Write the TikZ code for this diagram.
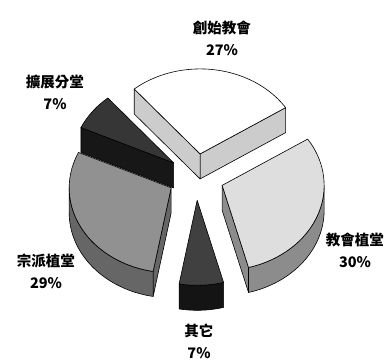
\documentclass[tikz,border=0pt]{standalone}
\usepackage{fontspec}
\newfontfamily\cjk{Noto Sans CJK TC}
\usepackage{tikz}
\definecolor{topA}{gray}{1.00}
\definecolor{sideA}{gray}{0.80}
\definecolor{topB}{gray}{0.21}
\definecolor{sideB}{gray}{0.09}
\definecolor{topC}{gray}{0.57}
\definecolor{sideC}{gray}{0.40}
\definecolor{topD}{gray}{0.25}
\definecolor{sideD}{gray}{0.08}
\definecolor{topE}{gray}{0.87}
\definecolor{sideE}{gray}{0.55}
\def\pieRx{102pt}
\def\pieRy{85pt}
\tikzset{
  face/.style={draw=black, line width=0.6pt, line join=round},
  lab/.style={font=\cjk\bfseries\fontsize{14.5}{22}\selectfont, align=center, inner sep=0pt},
}

\begin{document}
\begin{tikzpicture}[x=1pt,y=1pt]
    \useasboundingbox (-196,-187) rectangle (196,177);

    % centres of the pushed-out slices
    \coordinate (O1) at (81.6:28pt and 23.33pt);
    \coordinate (O2) at (142.8:28pt and 23.33pt);
    \coordinate (O3) at (207.6:28pt and 23.33pt);
    \coordinate (O4) at (272.4:28pt and 23.33pt);
    \coordinate (O5) at (339:28pt and 23.33pt);
    \coordinate (B1) at ([yshift=-25pt]O1);
    \coordinate (B2) at ([yshift=-25pt]O2);
    \coordinate (B3) at ([yshift=-25pt]O3);
    \coordinate (B4) at ([yshift=-25pt]O4);
    \coordinate (B5) at ([yshift=-25pt]O5);

    % slice 1, top
    \filldraw[face, fill=sideA] (O1) -- ++(33:102pt and 85pt) -- ++(0,-25) -- (B1) -- cycle;
    \filldraw[face, fill=sideA] (O1) -- ++(130.2:102pt and 85pt) -- ++(0,-25) -- (B1) -- cycle;
    \filldraw[face, fill=topA] (O1) -- ++(33:102pt and 85pt)
        arc[start angle=33, end angle=130.2, x radius=\pieRx, y radius=\pieRy] -- cycle;

    % slice 2, upper left
    \filldraw[face, fill=sideB] (O2) -- ++(155.4:102pt and 85pt) -- ++(0,-25) -- (B2) -- cycle;
    \filldraw[face, fill=topB] (O2) -- ++(130.2:102pt and 85pt)
        arc[start angle=130.2, end angle=155.4, x radius=\pieRx, y radius=\pieRy] -- cycle;

    % slice 5, right
    \filldraw[face, fill=sideE] (O5) -- ++(285:102pt and 85pt) -- ++(0,-25) -- (B5) -- cycle;
    \filldraw[face, fill=sideE] (O5) ++(285:102pt and 85pt)
        arc[start angle=285, end angle=360, x radius=\pieRx, y radius=\pieRy] -- ++(0,-25)
        arc[start angle=360, end angle=285, x radius=\pieRx, y radius=\pieRy] -- cycle;
    \filldraw[face, fill=topE] (O5) -- ++(285:102pt and 85pt)
        arc[start angle=285, end angle=393, x radius=\pieRx, y radius=\pieRy] -- cycle;

    % slice 3, left
    \filldraw[face, fill=sideC] (O3) -- ++(259.8:102pt and 85pt) -- ++(0,-25) -- (B3) -- cycle;
    \filldraw[face, fill=sideC] (O3) ++(180:102pt and 85pt)
        arc[start angle=180, end angle=259.8, x radius=\pieRx, y radius=\pieRy] -- ++(0,-25)
        arc[start angle=259.8, end angle=180, x radius=\pieRx, y radius=\pieRy] -- cycle;
    \filldraw[face, fill=topC] (O3) -- ++(155.4:102pt and 85pt)
        arc[start angle=155.4, end angle=259.8, x radius=\pieRx, y radius=\pieRy] -- cycle;

    % slice 4, bottom
    \filldraw[face, fill=sideD] (O4) ++(259.8:102pt and 85pt)
        arc[start angle=259.8, end angle=285, x radius=\pieRx, y radius=\pieRy] -- ++(0,-25)
        arc[start angle=285, end angle=259.8, x radius=\pieRx, y radius=\pieRy] -- cycle;
    \filldraw[face, fill=topD] (O4) -- ++(259.8:102pt and 85pt)
        arc[start angle=259.8, end angle=285, x radius=\pieRx, y radius=\pieRy] -- cycle;

    % labels
    \node[lab] (T1) at (26,139) {創始教會\\27\%};
    \node[lab] (T2) at (-141,85) {擴展分堂\\7\%};
    \node[lab] (T3) at (159,-73) {教會植堂\\30\%};
    \node[lab] (T4) at (-150,-94) {宗派植堂\\29\%};
    \node[lab] (T5) at (3,-164) {其它\\7\%};
\end{tikzpicture}
\end{document}
